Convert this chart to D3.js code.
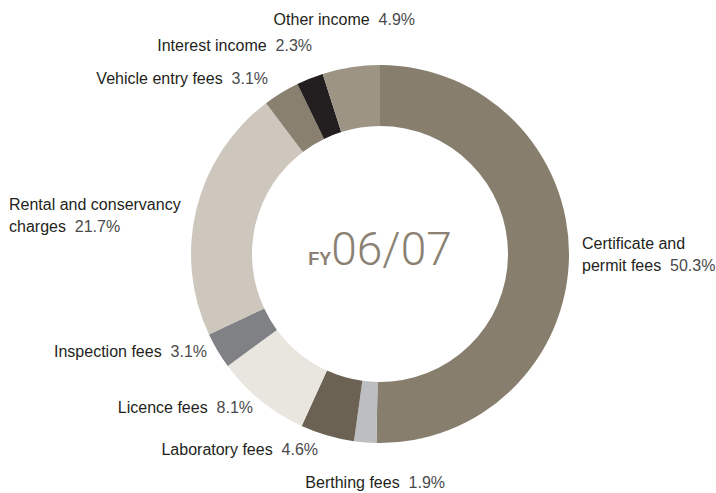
<!DOCTYPE html>
<html>
<head>
<meta charset="utf-8">
<script src="https://cdn.jsdelivr.net/npm/d3@7/dist/d3.min.js"></script>
<style>
  body { margin: 0; background: #fff; }
  svg { display: block; }
  .lbl { font-family: "Liberation Sans", Arial, sans-serif; font-size: 16px; fill: #231f20; }
  .lbl .pct { fill: #4a4a4c; }
</style>
</head>
<body>
<div id="chart"></div>
<script>
// income sources, clockwise from 12 o'clock
var categories = ["Certificate and permit fees", "Berthing fees", "Laboratory fees", "Licence fees",
  "Inspection fees", "Rental and conservancy charges", "Vehicle entry fees", "Interest income", "Other income"];
var shares = [50.3, 1.9, 4.6, 8.1, 3.1, 21.7, 3.1, 2.3, 4.9];
// label text, split into lines where the original wraps
var labelLines = [
  ["Certificate and", "permit fees"], ["Berthing fees"], ["Laboratory fees"], ["Licence fees"],
  ["Inspection fees"], ["Rental and conservancy", "charges"], ["Vehicle entry fees"],
  ["Interest income"], ["Other income"]
];
var yearLabel = "06/07";

var colors = ["#877e6e", "#bdbec1", "#6b6254", "#e9e6df", "#808185", "#cdc7bd", "#898070", "#231f20", "#9d9484"];
// x, y of first baseline, anchor
var labelPos = [
  [582, 249, "start"], [445, 488, "end"], [318, 455, "end"], [253, 413, "end"],
  [207, 357, "end"], [9, 210, "start"], [268, 84, "end"], [312, 51, "end"], [415, 25, "end"]
];

var width = 716, height = 493,
  cx = 380, cy = 254;

var svg = d3.select("#chart").append("svg")
  .attr("width", width)
  .attr("height", height);

var pie = d3.pie()
  .sort(null)
  .value(function(d) { return d; });

var arc = d3.arc()
  .innerRadius(128)
  .outerRadius(189);

var g = svg.append("g")
  .attr("transform", "translate(" + cx + "," + cy + ")");

g.selectAll("path")
  .data(pie(shares))
  .enter().append("path")
  .attr("d", arc)
  .attr("fill", function(d, i) { return colors[i]; });

// labels
var lbl = svg.selectAll("text.lbl")
  .data(categories)
  .enter().append("text")
  .attr("class", "lbl")
  .attr("x", function(d, i) { return labelPos[i][0]; })
  .attr("y", function(d, i) { return labelPos[i][1]; })
  .attr("text-anchor", function(d, i) { return labelPos[i][2]; });

lbl.each(function(d, i) {
  var t = d3.select(this),
    lines = labelLines[i];
  lines.forEach(function(line, j) {
    t.append("tspan")
      .attr("x", labelPos[i][0])
      .attr("dy", j === 0 ? 0 : 22)
      .text(line);
    if (j === lines.length - 1) {
      t.append("tspan").attr("class", "pct").text("\u00a0\u00a0" + shares[i].toFixed(1) + "%");
    }
  });
});

// centre title
var title = svg.append("text")
  .attr("x", cx)
  .attr("y", 265)
  .attr("text-anchor", "middle")
  .attr("fill", "#8a8172");
title.append("tspan")
  .style("font-family", "'Liberation Sans', Arial, sans-serif")
  .style("font-size", "18px")
  .style("font-weight", "bold")
  .text("FY");
title.append("tspan")
  .style("font-family", "Roboto, 'Liberation Sans', sans-serif")
  .style("font-size", "46px")
  .style("font-weight", "300")
  .text(yearLabel);
</script>
</body>
</html>
